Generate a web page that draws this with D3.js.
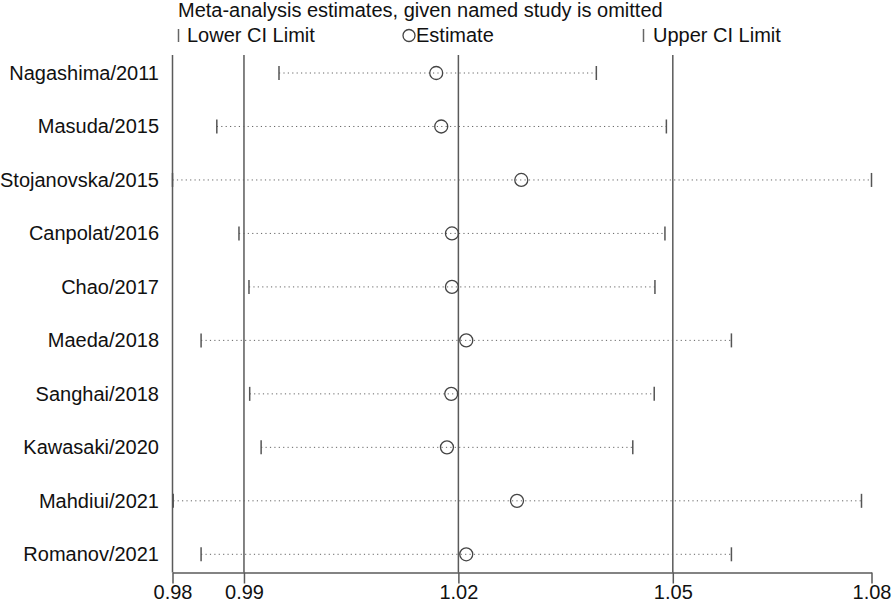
<!DOCTYPE html>
<html>
<head>
<meta charset="utf-8">
<script src="https://cdn.jsdelivr.net/npm/d3@7"></script>
<style>
  body { margin: 0; background: #fff; }
  svg { font-family: "Liberation Sans", Arial, sans-serif; }
  .lbl { font-size: 20px; fill: #111; }
</style>
</head>
<body>
<div id="viz"></div>
<script>
var studies = ['Nagashima/2011', 'Masuda/2015', 'Stojanovska/2015', 'Canpolat/2016', 'Chao/2017',
               'Maeda/2018', 'Sanghai/2018', 'Kawasaki/2020', 'Mahdiui/2021', 'Romanov/2021'];
var lower    = [0.9949, 0.9862, 0.9800, 0.9893, 0.9907, 0.9840, 0.9908, 0.9924, 0.9801, 0.9840];
var estimate = [1.0169, 1.0176, 1.0288, 1.0191, 1.0191, 1.0211, 1.0190, 1.0184, 1.0282, 1.0211];
var upper    = [1.0393, 1.0491, 1.0778, 1.0489, 1.0475, 1.0582, 1.0474, 1.0444, 1.0764, 1.0582];
var pooled   = [0.99, 1.02, 1.05];   // overall lower CI, estimate, upper CI

var W = 896, H = 603;
var svg = d3.select('#viz').append('svg')
    .attr('width', W)
    .attr('height', H);

var xMin = d3.min(lower), xMax = d3.max(upper);

var x = d3.scaleLinear()
    .domain([xMin, xMax])
    .range([172.5, 871.5]);

var y = d3.scalePoint()
    .domain(studies)
    .range([73, 554.3]);

var axisY = 572.5, topY = 55;

// title + legend
svg.append('text').attr('class', 'lbl')
    .attr('x', 178).attr('y', 17)
    .text('Meta-analysis estimates, given named study is omitted');

var leg = svg.append('g');
leg.append('line').attr('x1', 178.5).attr('x2', 178.5).attr('y1', 29).attr('y2', 42)
    .attr('stroke', '#666').attr('stroke-width', 1.5);
leg.append('text').attr('class', 'lbl').attr('x', 187).attr('y', 42).text('Lower CI Limit');
leg.append('circle').attr('cx', 409).attr('cy', 35.5).attr('r', 6)
    .attr('fill', 'none').attr('stroke', '#444').attr('stroke-width', 1.3);
leg.append('text').attr('class', 'lbl').attr('x', 416).attr('y', 42).text('Estimate');
leg.append('line').attr('x1', 643.5).attr('x2', 643.5).attr('y1', 29).attr('y2', 42)
    .attr('stroke', '#666').attr('stroke-width', 1.5);
leg.append('text').attr('class', 'lbl').attr('x', 653).attr('y', 42).text('Upper CI Limit');

// vertical reference lines
svg.selectAll('line.ref')
    .data([xMin].concat(pooled))
    .enter()
    .append('line')
    .attr('class', 'ref')
    .attr('x1', function (d) { return x(d); })
    .attr('x2', function (d) { return x(d); })
    .attr('y1', topY)
    .attr('y2', axisY)
    .attr('stroke', '#5a5a5a')
    .attr('stroke-width', 1.5);

// x axis
var ax = svg.append('g')
    .attr('transform', 'translate(0,' + axisY + ')')
    .call(d3.axisBottom(x)
        .tickValues([xMin, 0.99, 1.02, 1.05, xMax])
        .tickFormat(d3.format('.2f'))
        .tickSize(11)
        .tickSizeOuter(0));
ax.select('.domain').attr('stroke', '#5a5a5a').attr('stroke-width', 1.5);
ax.selectAll('.tick line').attr('stroke', '#5a5a5a').attr('stroke-width', 1.5);
ax.selectAll('.tick text')
    .attr('font-size', 20)
    .attr('font-family', '"Liberation Sans", Arial, sans-serif')
    .attr('fill', '#111')
    .attr('y', 26)
    .attr('dy', 0);

// rows
var rows = svg.selectAll('g.row')
    .data(studies)
    .enter()
    .append('g')
    .attr('class', 'row');

rows.append('text')
    .attr('class', 'lbl')
    .attr('x', 159)
    .attr('y', function (d) { return y(d) + 7; })
    .attr('text-anchor', 'end')
    .text(function (d) { return d; });

rows.append('line')
    .attr('x1', function (d, i) { return x(lower[i]); })
    .attr('x2', function (d, i) { return x(upper[i]); })
    .attr('y1', function (d) { return y(d); })
    .attr('y2', function (d) { return y(d); })
    .attr('stroke', '#666')
    .attr('stroke-width', 1)
    .attr('stroke-dasharray', '1.2,3.2');

rows.append('line')
    .attr('x1', function (d, i) { return x(lower[i]); })
    .attr('x2', function (d, i) { return x(lower[i]); })
    .attr('y1', function (d) { return y(d) - 7; })
    .attr('y2', function (d) { return y(d) + 7; })
    .attr('stroke', '#555')
    .attr('stroke-width', 1.5);

rows.append('line')
    .attr('x1', function (d, i) { return x(upper[i]); })
    .attr('x2', function (d, i) { return x(upper[i]); })
    .attr('y1', function (d) { return y(d) - 7; })
    .attr('y2', function (d) { return y(d) + 7; })
    .attr('stroke', '#555')
    .attr('stroke-width', 1.5);

rows.append('circle')
    .attr('cx', function (d, i) { return x(estimate[i]); })
    .attr('cy', function (d) { return y(d); })
    .attr('r', 6.5)
    .attr('fill', 'none')
    .attr('stroke', '#444')
    .attr('stroke-width', 1.3);
</script>
</body>
</html>
